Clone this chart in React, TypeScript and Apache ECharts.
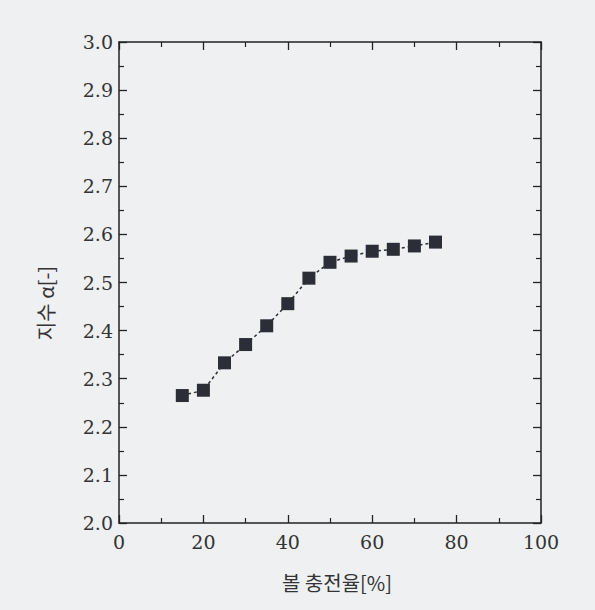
import React, { useEffect, useRef } from "react";
import * as echarts from "echarts";

const fillRatio = [15, 20, 25, 30, 35, 40, 45, 50, 55, 60, 65, 70, 75];
const exponentA = [2.265, 2.276, 2.333, 2.371, 2.41, 2.456, 2.509, 2.542, 2.555, 2.565, 2.569, 2.576, 2.584];
const xTitle = "볼 충전율[%]";
const yTitle = "지수 α[-]";

export default function App() {
  const ref = useRef<HTMLDivElement>(null);
  useEffect(() => {
    if (!ref.current) return;
    const chart = echarts.init(ref.current, undefined, { renderer: "svg" });
    const axisColor = "#222";
    const labelFont = { fontFamily: "DejaVu Serif", fontSize: 19, color: "#333" };
    const common = {
      axisLine: { show: true, onZero: false, lineStyle: { color: axisColor, width: 1.5 } },
      axisTick: { show: true, inside: true, length: 8, lineStyle: { color: axisColor, width: 1.3 } },
      minorTick: { show: true, splitNumber: 2, length: 5, lineStyle: { color: axisColor, width: 1.2 } },
      splitLine: { show: false },
    };
    chart.setOption({
      animation: false,
      backgroundColor: "#eef0f2",
      grid: { left: 119, right: 54, top: 42, bottom: 87 },
      xAxis: [
        {
          type: "value", position: "bottom", min: 0, max: 100, interval: 20,
          ...common,
          axisLabel: { ...labelFont, margin: 9 },
        },
        {
          type: "value", position: "top", min: 0, max: 100, interval: 20,
          ...common,
          axisLabel: { show: false },
        },
      ],
      yAxis: [
        {
          type: "value", position: "left", min: 2.0, max: 3.0, interval: 0.1,
          ...common,
          axisLabel: { ...labelFont, margin: 6, formatter: (v: number) => v.toFixed(1) },
        },
        {
          type: "value", position: "right", min: 2.0, max: 3.0, interval: 0.1,
          ...common,
          axisLabel: { show: false },
        },
      ],
      graphic: [
        {
          type: "text",
          x: 337, y: 582,
          style: {
            text: xTitle, fontFamily: "Noto Sans CJK KR", fontSize: 20, fill: "#333",
            align: "center", verticalAlign: "middle",
          },
        },
        {
          type: "text",
          x: 45, y: 303,
          rotation: Math.PI / 2,
          style: {
            text: yTitle, fontFamily: "Noto Sans CJK KR", fontSize: 20, fill: "#333",
            align: "center", verticalAlign: "middle",
          },
        },
      ],
      series: [
        {
          type: "line",
          data: fillRatio.map((x, i) => [x, exponentA[i]]),
          symbol: "rect",
          symbolSize: 13,
          itemStyle: { color: "#2b2e36" },
          lineStyle: { color: "#2b2e36", width: 1.5, type: [3, 3] },
        },
      ],
    });
    return () => chart.dispose();
  }, []);
  return <div ref={ref} style={{ width: 595, height: 610, position: "absolute", left: 0, top: 0 }} />;
}
